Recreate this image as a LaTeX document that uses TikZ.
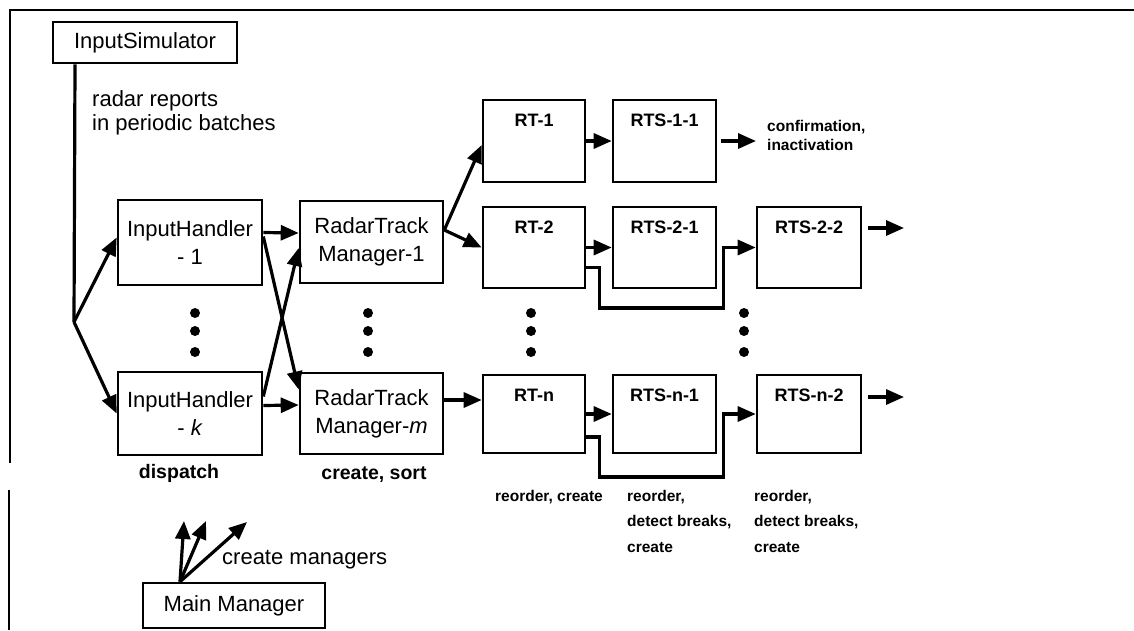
\documentclass[tikz,border=0pt]{standalone}
\usepackage{fontspec}
\setmainfont{Liberation Sans}
\usetikzlibrary{arrows.meta}
\begin{document}
\begin{tikzpicture}[x=1pt,y=-1pt,
  box/.style={draw, line width=2.6pt, inner sep=0pt, align=center,
    font=\fontsize{22}{28}\selectfont},
  tbox/.style={draw, line width=2.6pt, inner sep=0pt,
    label={[anchor=north, inner sep=0pt, yshift=-15pt,
      font=\bfseries\fontsize{18}{22}\selectfont]north:#1}},
  conn/.style={line width=3.2pt, -{Triangle[length=18pt,width=15pt]}},
  plain/.style={line width=3.2pt},
  small/.style={font=\bfseries\fontsize{15.5}{25.5}\selectfont, align=left, inner sep=0pt},
  mid/.style={font=\bfseries\fontsize{19.5}{24}\selectfont, inner sep=0pt},
  big/.style={font=\fontsize{22}{24}\selectfont, align=left, inner sep=0pt},
  dot/.style={circle, fill, inner sep=0pt, minimum size=10pt},
]
\useasboundingbox (0,0) rectangle (1134,630);
% frame
\draw[line width=2.6pt] (1134,10) -- (10,10) -- (10,463);
\draw[line width=2.4pt] (9,490) -- (9,630);

% boxes
\node[box, minimum width=184pt, minimum height=41pt] (IS) at (145,42.5) {InputSimulator};
\node[box, minimum width=144pt, minimum height=85pt] (IH1) at (190,242.5) {InputHandler\\- 1};
\node[box, minimum width=144pt, minimum height=83pt] (IHk) at (190,413.5) {InputHandler\\- \textit{k}};
\node[box, minimum width=143pt, minimum height=82pt] (RTM1) at (371.5,242) {RadarTrack\\Manager-1};
\node[box, minimum width=143pt, minimum height=81pt] (RTMm) at (371.5,413.5) {RadarTrack\\Manager-\textit{m}};

\node[tbox=RT-1, minimum width=102pt, minimum height=82pt] (RT1) at (534,141) {};
\node[tbox=RTS-1-1, minimum width=103pt, minimum height=82pt] (RTS11) at (664.5,141) {};
\node[tbox=RT-2, minimum width=102pt, minimum height=81pt] (RT2) at (534,247.5) {};
\node[tbox=RTS-2-1, minimum width=103pt, minimum height=81pt] (RTS21) at (664.5,247.5) {};
\node[tbox=RTS-2-2, minimum width=104pt, minimum height=81pt] (RTS22) at (809,247.5) {};
\node[tbox=RT-n, minimum width=102pt, minimum height=78pt] (RTn) at (534,414) {};
\node[tbox=RTS-n-1, minimum width=103pt, minimum height=78pt] (RTSn1) at (664.5,414) {};
\node[tbox=RTS-n-2, minimum width=104pt, minimum height=78pt] (RTSn2) at (809,414) {};

\node[box, minimum width=182pt, minimum height=45pt] (MM) at (234,605.5) {Main Manager};

% dots
\foreach \x/\n in {195/a,368/b,531/c,744/d}{
  \node[dot] (\n1) at (\x,313) {};
  \node[dot] (\n2) at (\x,331) {};
  \node[dot] (\n3) at (\x,352) {};
}

% labels
\node[big, anchor=north west] (radar) at (92,90) {radar reports\\in periodic batches};
\node[mid, anchor=base] (disp) at (179,478) {dispatch};
\node[mid, anchor=base] (cs) at (374,479) {create, sort};
\node[small, anchor=base] (rc) at (549,501) {reorder, create};
\node[small, anchor=north west] (rdc1) at (627,490) {reorder,\\detect breaks,\\create};
\node[small, anchor=north west] (rdc2) at (754,490) {reorder,\\detect breaks,\\create};
\node[font=\bfseries\fontsize{15.5}{19.5}\selectfont, align=left, inner sep=0pt, anchor=north west] (conf) at (767,120) {confirmation,\\inactivation};
\node[big, anchor=base west] (cm) at (222,564) {create managers};

% coordinates for free ends
\coordinate (split) at (74,322);
\coordinate (out1) at (756,141);
\coordinate (out2) at (904,228);
\coordinate (out3) at (904,397);
\coordinate (m1) at (184,521);
\coordinate (m2) at (206,521);
\coordinate (m3) at (247,522);

% connectors
\draw[plain] ([xshift=-70pt]IS.south) -- (split);
\draw[conn] (split) -- ([yshift=5pt]IH1.west);
\draw[conn] (split) -- (IHk.west);
\draw[conn] ([yshift=10pt]IH1.east) -- ([yshift=9pt]RTM1.west);
\draw[conn] ([yshift=6pt]IH1.east) -- ([yshift=24pt]RTMm.west);
\draw[conn] ([yshift=17pt]IHk.east) -- ([yshift=-6pt]RTM1.west);
\draw[conn] ([yshift=8pt]IHk.east) -- ([yshift=8.5pt]RTMm.west);
\draw[conn] ([yshift=12pt]RTM1.east) -- ([yshift=-4pt]RT1.west);
\draw[conn] ([yshift=12pt]RTM1.east) -- (RT2.west);
\draw[conn] ([yshift=13.5pt]RTMm.east) -- ([yshift=14pt]RTn.west);
\draw[conn] (RT1.east) -- (RTS11.west);
\draw[conn] ([xshift=4pt]RTS11.east) -- (out1);
\draw[conn] (RT2.east) -- (RTS21.west);
\draw[conn] ([yshift=-20pt]RT2.east) -- ++(13,0) -- ++(0,40.5) -- ++(124,0) -- ++(0,-60.5) -- (RTS22.west);
\draw[conn] ([xshift=6pt,yshift=19.5pt]RTS22.east) -- (out2);
\draw[conn] (RTn.east) -- (RTSn1.west);
\draw[conn] ([yshift=-23pt]RTn.east) -- ++(13,0) -- ++(0,40) -- ++(124,0) -- ++(0,-63) -- (RTSn2.west);
\draw[conn] ([xshift=6pt,yshift=17pt]RTSn2.east) -- (out3);
\draw[conn] ([xshift=-54pt]MM.north) -- (m1);
\draw[conn] ([xshift=-54pt]MM.north) -- (m2);
\draw[conn] ([xshift=-54pt]MM.north) -- (m3);
\end{tikzpicture}
\end{document}
